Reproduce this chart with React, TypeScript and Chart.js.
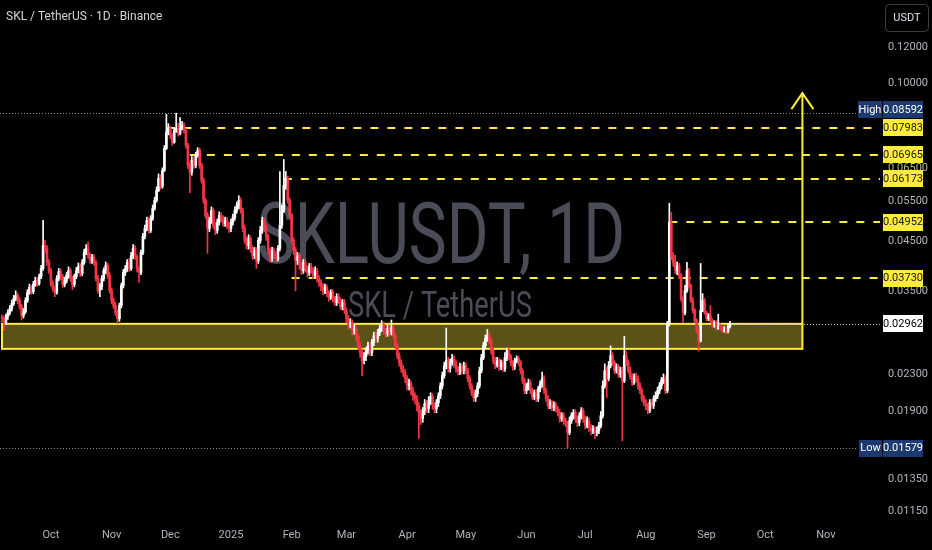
import React, { useEffect, useRef } from "react";
import { Chart, registerables } from "chart.js";

Chart.register(...registerables);

// ---- DATA (SKL/USDT daily, starting 2024-09-06) ----
const closes = [
  0.03041,0.02981,0.03072,0.03135,0.032,0.03282,0.03366,0.03417,0.03332,0.03233,
  0.03088,0.03151,0.03332,0.0347,0.03559,0.03487,0.03613,0.03687,0.03631,0.03763,
  0.03918,0.04402,0.04336,0.04039,0.03879,0.03631,0.03541,0.0347,0.03725,0.03859,
  0.03763,0.03613,0.03687,0.03782,0.03879,0.03725,0.03613,0.03763,0.03879,0.03958,
  0.03821,0.04039,0.04249,0.04336,0.04185,0.0408,0.04143,0.04039,0.03725,0.03505,
  0.03577,0.03725,0.03879,0.03978,0.03782,0.03505,0.03332,0.03249,0.03135,0.03041,
  0.03249,0.03595,0.0384,0.03918,0.04039,0.03918,0.04185,0.04336,0.04164,0.03918,
  0.0384,0.04249,0.04608,0.04798,0.04996,0.0475,0.05047,0.0531,0.05529,0.05816,
  0.0618,0.05935,0.06436,0.07195,0.07802,0.07961,0.07684,0.07416,0.07881,0.07961,
  0.07762,0.07961,0.08083,0.07881,0.07305,0.06601,0.06371,0.06771,0.06601,0.06944,
  0.07122,0.06601,0.06118,0.05529,0.05124,0.04798,0.04996,0.05256,0.04871,0.0475,
  0.04946,0.05124,0.05047,0.04921,0.04996,0.04871,0.04798,0.04946,0.05072,0.05256,
  0.05391,0.05529,0.05256,0.04798,0.04515,0.04402,0.04561,0.04336,0.04185,0.04292,
  0.0408,0.04515,0.0475,0.04996,0.04798,0.04608,0.04292,0.04122,0.04292,0.04185,
  0.04122,0.04336,0.04871,0.05256,0.05965,0.06173,0.05529,0.05124,0.04515,0.04292,
  0.0408,0.04185,0.03978,0.03879,0.04039,0.03918,0.0384,0.03958,0.03879,0.03782,
  0.03879,0.03725,0.0365,0.03577,0.03505,0.03559,0.03452,0.03383,0.0347,0.03366,
  0.03298,0.034,0.03332,0.03233,0.03298,0.03167,0.03041,0.02936,0.02981,0.02862,
  0.02892,0.02777,0.02653,0.02561,0.02459,0.02509,0.02587,0.02653,0.02561,0.02694,
  0.02791,0.02749,0.02833,0.02892,0.02951,0.02862,0.02819,0.02892,0.02833,0.02906,
  0.02791,0.02653,0.02522,0.02434,0.02361,0.02313,0.02245,0.02166,0.02188,0.02112,
  0.02059,0.02028,0.01958,0.0189,0.01833,0.01909,0.01978,0.01928,0.02008,0.02049,
  0.01958,0.01928,0.01988,0.02059,0.02166,0.02279,0.02397,0.02459,0.02361,0.02434,
  0.02484,0.02422,0.02361,0.02325,0.02385,0.02337,0.02397,0.02337,0.02245,0.02166,
  0.02091,0.02038,0.0208,0.02166,0.02337,0.02497,0.02653,0.02749,0.02791,0.02721,
  0.02587,0.02459,0.0241,0.02459,0.02385,0.02434,0.02361,0.02497,0.02587,0.02509,
  0.02434,0.02385,0.02459,0.02484,0.02434,0.02337,0.02222,0.02112,0.02155,0.022,
  0.02112,0.02049,0.02091,0.02028,0.02133,0.02188,0.02245,0.02112,0.02028,0.01958,
  0.01988,0.01938,0.01968,0.01928,0.0189,0.01833,0.01861,0.01814,0.01787,0.01708,
  0.01814,0.01861,0.0189,0.01833,0.01796,0.01861,0.01909,0.01833,0.01769,0.01814,
  0.01751,0.01725,0.01742,0.01708,0.01725,0.01769,0.01861,0.02166,0.02337,0.02245,
  0.02397,0.02522,0.02434,0.02337,0.02385,0.0229,0.0234,0.0222,0.02522,0.02434,
  0.02337,0.02267,0.022,0.02267,0.02245,0.02166,0.02112,0.02028,0.01988,0.01948,
  0.01909,0.01988,0.01958,0.02028,0.02059,0.02112,0.02166,0.02222,0.02245,0.02112,
  0.02966,0.04952,0.04185,0.04039,0.03879,0.03978,0.03782,0.03366,0.03135,0.03505,
  0.03879,0.03595,0.03332,0.03167,0.03011,0.02862,0.02721,0.03167,0.03332,0.03135,
  0.03041,0.03088,0.03011,0.02936,0.02981,0.02892,0.02936,0.02892,0.02862,0.02892,
  0.02848,0.02921,0.02962,
];
const highs = [
  0.031,0.0308,0.0311,0.0318,0.0325,0.0334,0.0342,0.035,0.0346,0.0338,
  0.0327,0.032,0.0338,0.0352,0.0362,0.036,0.0367,0.0375,0.0374,0.0381,
  0.0398,0.05,0.0452,0.044,0.041,0.0392,0.0368,0.0358,0.0378,0.0392,
  0.0391,0.038,0.0375,0.0384,0.0395,0.0392,0.0377,0.0381,0.0394,0.0403,
  0.0401,0.041,0.0432,0.0442,0.0448,0.0424,0.0421,0.042,0.0409,0.0378,
  0.0363,0.0378,0.0393,0.0405,0.0402,0.0384,0.0355,0.0338,0.033,0.0318,
  0.0329,0.0364,0.039,0.0398,0.041,0.0412,0.0425,0.0442,0.044,0.042,
  0.0396,0.043,0.0468,0.0488,0.0508,0.0507,0.0512,0.054,0.0562,0.0592,
  0.0632,0.063,0.0652,0.073,0.0855,0.0815,0.0805,0.0776,0.08,0.08592,
  0.0815,0.084,0.0825,0.0818,0.0795,0.0738,0.067,0.069,0.0688,0.0705,
  0.0722,0.072,0.0668,0.062,0.056,0.052,0.0508,0.0535,0.0532,0.0495,
  0.0503,0.0522,0.052,0.0512,0.0508,0.0507,0.0495,0.0503,0.0516,0.0535,
  0.0548,0.0566,0.056,0.0532,0.0488,0.046,0.0465,0.0462,0.044,0.0436,
  0.0435,0.0458,0.0485,0.0508,0.0506,0.0488,0.0466,0.0435,0.0436,0.0435,
  0.0425,0.044,0.064,0.054,0.068,0.064,0.0625,0.056,0.0518,0.0458,
  0.0436,0.0425,0.0424,0.0404,0.041,0.041,0.0397,0.0402,0.0402,0.0393,
  0.0395,0.0392,0.0378,0.037,0.0363,0.0362,0.0361,0.035,0.0352,0.0352,
  0.034,0.0345,0.0345,0.0338,0.0335,0.0335,0.0321,0.0309,0.0304,0.0302,
  0.0295,0.0293,0.0282,0.027,0.026,0.0256,0.0263,0.027,0.0268,0.0274,
  0.0284,0.0285,0.0288,0.0294,0.0301,0.0299,0.029,0.0294,0.0294,0.0302,
  0.0294,0.0283,0.0269,0.0256,0.0247,0.024,0.0235,0.0228,0.0224,0.0222,
  0.0215,0.0209,0.0206,0.0199,0.0192,0.0194,0.0202,0.0201,0.0205,0.0209,
  0.0208,0.0199,0.0202,0.0209,0.022,0.0232,0.0244,0.029,0.025,0.0248,
  0.0254,0.0252,0.0246,0.0239,0.0243,0.0242,0.0244,0.0243,0.0237,0.0228,
  0.0219,0.0212,0.0212,0.022,0.0238,0.0254,0.027,0.028,0.0288,0.0284,
  0.0276,0.0262,0.025,0.025,0.0249,0.0247,0.0246,0.0256,0.0262,0.0262,
  0.0254,0.0246,0.0249,0.0252,0.0251,0.0246,0.0236,0.0225,0.0219,0.0224,
  0.0223,0.0214,0.0212,0.0212,0.0216,0.0222,0.0232,0.0228,0.0214,0.0206,
  0.0202,0.0201,0.02,0.0199,0.0195,0.0192,0.0189,0.0189,0.0184,0.0181,
  0.0185,0.0189,0.0192,0.0192,0.0186,0.0189,0.0194,0.0193,0.0186,0.0185,
  0.0184,0.0178,0.0177,0.0176,0.0176,0.018,0.019,0.0222,0.0242,0.0238,
  0.0245,0.0265,0.0256,0.0246,0.0242,0.0241,0.0238,0.0238,0.0278,0.0258,
  0.0247,0.0238,0.023,0.023,0.0231,0.0228,0.022,0.0214,0.0206,0.0202,
  0.0198,0.0202,0.0202,0.0206,0.021,0.0215,0.022,0.0226,0.023,0.0228,
  0.03,0.0545,0.052,0.0425,0.0419,0.0405,0.0402,0.0382,0.034,0.036,
  0.0404,0.0392,0.0362,0.0338,0.032,0.0304,0.0288,0.0402,0.0345,0.0337,
  0.0316,0.0312,0.0325,0.0304,0.0301,0.0301,0.0311,0.0296,0.0292,0.0292,
  0.0291,0.0295,0.03,
];
const lows = [
  0.0299,0.0286,0.0295,0.0303,0.031,0.0316,0.0325,0.0333,0.0328,0.0319,
  0.0302,0.0305,0.0312,0.033,0.0344,0.0344,0.0345,0.0358,0.0358,0.036,
  0.0372,0.0388,0.0425,0.0398,0.0382,0.0358,0.0349,0.034,0.0344,0.0368,
  0.037,0.0356,0.0357,0.0364,0.0373,0.0367,0.0352,0.0357,0.0372,0.0383,
  0.0376,0.0378,0.04,0.042,0.0413,0.0402,0.0402,0.0398,0.0368,0.0346,
  0.034,0.0352,0.0368,0.0382,0.0373,0.0346,0.0328,0.032,0.0309,0.0297,
  0.03,0.0321,0.0355,0.0378,0.0386,0.0386,0.0388,0.0412,0.041,0.0385,
  0.0365,0.038,0.042,0.0455,0.0474,0.0468,0.047,0.05,0.0526,0.0548,
  0.0578,0.0585,0.0588,0.064,0.0715,0.077,0.0755,0.073,0.0738,0.078,
  0.0765,0.077,0.079,0.0778,0.072,0.065,0.0575,0.0628,0.065,0.0652,
  0.0688,0.065,0.0603,0.0545,0.0505,0.0423,0.0472,0.0492,0.048,0.0465,
  0.0468,0.0488,0.0497,0.0485,0.0485,0.048,0.047,0.0472,0.0488,0.05,
  0.0518,0.053,0.0518,0.0472,0.0445,0.0432,0.0432,0.0425,0.041,0.0412,
  0.0392,0.0402,0.0445,0.0468,0.0472,0.0452,0.0422,0.0405,0.0406,0.0412,
  0.0405,0.0407,0.0428,0.048,0.052,0.0585,0.0545,0.0505,0.0445,0.042,
  0.035,0.04,0.039,0.038,0.0382,0.0385,0.0375,0.0378,0.0382,0.0372,
  0.0373,0.0366,0.0358,0.035,0.0343,0.0345,0.034,0.0332,0.0335,0.0331,
  0.0325,0.0325,0.0328,0.0318,0.0318,0.0312,0.0298,0.0288,0.029,0.028,
  0.0281,0.0272,0.026,0.025,0.0228,0.0242,0.0246,0.0254,0.0252,0.0252,
  0.0265,0.027,0.027,0.0279,0.0285,0.0281,0.0277,0.0278,0.0279,0.028,
  0.0275,0.0261,0.0248,0.0239,0.0232,0.0227,0.022,0.0212,0.0212,0.0207,
  0.0201,0.0198,0.0191,0.0166,0.0178,0.018,0.0187,0.0189,0.0189,0.0197,
  0.0192,0.0189,0.0189,0.0195,0.0203,0.0213,0.0225,0.0236,0.0232,0.0232,
  0.024,0.0238,0.0232,0.0229,0.0229,0.023,0.023,0.023,0.0221,0.0213,
  0.0206,0.02,0.02,0.0205,0.0214,0.0231,0.0247,0.0262,0.0271,0.0268,
  0.0254,0.0242,0.0236,0.0238,0.0234,0.0235,0.0233,0.0233,0.0246,0.0247,
  0.024,0.0234,0.0235,0.0243,0.024,0.023,0.0219,0.0208,0.0208,0.0212,
  0.0208,0.0202,0.0202,0.02,0.02,0.021,0.0215,0.0208,0.02,0.0193,
  0.0193,0.0191,0.0191,0.019,0.0186,0.018,0.0181,0.0178,0.0176,0.01579,
  0.0169,0.0179,0.0183,0.018,0.0176,0.0177,0.0183,0.018,0.0174,0.0175,
  0.0172,0.0169,0.017,0.0166,0.0168,0.017,0.0175,0.0184,0.0214,0.0204,
  0.0222,0.0237,0.024,0.023,0.0231,0.0226,0.0226,0.0164,0.022,0.024,
  0.0231,0.0224,0.0217,0.0218,0.0221,0.0213,0.0208,0.02,0.0196,0.0192,
  0.0188,0.0189,0.0193,0.0193,0.02,0.0203,0.0208,0.0213,0.0219,0.0208,
  0.0209,0.0293,0.041,0.0396,0.0382,0.038,0.0372,0.0332,0.0298,0.031,
  0.0347,0.0355,0.033,0.0313,0.0298,0.0283,0.0258,0.027,0.0315,0.0311,
  0.0301,0.0301,0.0298,0.0291,0.0291,0.0287,0.0288,0.0287,0.0284,0.0284,
  0.0282,0.0283,0.029,
];
const firstOpen = 0.0305;

const monthTicks = [25, 56, 86, 117, 148, 176, 207, 237, 268, 298, 329, 360, 390, 421];
const monthLabels = ["Oct", "Nov", "Dec", "2025", "Feb", "Mar", "Apr", "May", "Jun", "Jul", "Aug", "Sep", "Oct", "Nov"];
const priceTicks = [0.12, 0.1, 0.065, 0.055, 0.045, 0.035, 0.023, 0.019, 0.0135, 0.0115];

const levels = [0.07983, 0.06965, 0.06173, 0.04952, 0.0373];
const levelStart = [84, 96, 144, 341, 148];
const zoneTop = 0.02962;
const zoneBottom = 0.0261;
const zoneStart = 0;
const zoneEnd = 409;
const arrowTop = 0.0951;
const highValue = 0.08592;
const lowValue = 0.01579;
const lastValue = 0.02962;

// ---- STYLE ----
const UP = "#ffffff";
const DOWN = "#f23645";
const YELLOW = "#ffeb3b";
const NAVY = "#1c3a70";
const FONT = '"Liberation Sans Narrow", "Arial Narrow", Roboto, sans-serif';
const WM_FONT = 'Roboto, "Noto Sans", sans-serif';

function fitText(ctx: CanvasRenderingContext2D, text: string, cx: number, baseline: number, size: number, width: number, color: string) {
  ctx.save();
  ctx.font = `${size}px ${WM_FONT}`;
  const w = ctx.measureText(text).width;
  ctx.translate(cx, baseline);
  ctx.scale(width / w, 1);
  ctx.fillStyle = color;
  ctx.textAlign = "center";
  ctx.textBaseline = "alphabetic";
  ctx.fillText(text, 0, 0);
  ctx.restore();
}

function labelBox(ctx: CanvasRenderingContext2D, x: number, yc: number, w: number, text: string, bg: string, fg: string) {
  const h = 17;
  ctx.fillStyle = bg;
  ctx.fillRect(x, Math.round(yc - h / 2), w, h);
  ctx.fillStyle = fg;
  ctx.font = `11px ${FONT}`;
  ctx.textAlign = "center";
  ctx.textBaseline = "middle";
  ctx.fillText(text, x + w / 2, Math.round(yc) + 0.5);
}

const overlay = {
  id: "overlay",
  beforeDraw(chart: any) {
    const { ctx, width, height } = chart;
    ctx.save();
    ctx.fillStyle = "#000000";
    ctx.fillRect(0, 0, width, height);
    ctx.restore();
  },
  beforeDatasetsDraw(chart: any) {
    const { ctx, chartArea: a, scales } = chart;
    const xs = scales.x;
    const ys = scales.y;
    ctx.save();
    // watermark
    fitText(ctx, "SKLUSDT, 1D", 441, 263, 86, 368, "#4a4d58");
    fitText(ctx, "SKL / TetherUS", 440, 317, 37, 184, "#4a4d58");

    // zone
    const zx0 = xs.getPixelForValue(zoneStart);
    const zx1 = xs.getPixelForValue(zoneEnd);
    const zy0 = ys.getPixelForValue(zoneTop);
    const zy1 = ys.getPixelForValue(zoneBottom);
    ctx.fillStyle = "#5b5216";
    ctx.fillRect(zx0, zy0, zx1 - zx0, zy1 - zy0);
    ctx.strokeStyle = YELLOW;
    ctx.lineWidth = 2;
    ctx.strokeRect(zx0, zy0, zx1 - zx0, zy1 - zy0);

    // dashed resistance levels
    ctx.setLineDash([8, 9]);
    ctx.lineWidth = 2;
    levels.forEach((lv, i) => {
      const yy = Math.round(ys.getPixelForValue(lv));
      ctx.beginPath();
      ctx.moveTo(xs.getPixelForValue(levelStart[i]), yy);
      ctx.lineTo(a.right, yy);
      ctx.stroke();
    });

    // dotted high / low / last lines
    ctx.setLineDash([1, 2]);
    ctx.lineWidth = 1;
    ctx.strokeStyle = "#8a8d96";
    const hy = Math.round(ys.getPixelForValue(highValue)) + 0.5;
    ctx.beginPath(); ctx.moveTo(a.left, hy); ctx.lineTo(a.right - 22, hy); ctx.stroke();
    const ly = Math.round(ys.getPixelForValue(lowValue)) + 0.5;
    ctx.beginPath(); ctx.moveTo(a.left, ly); ctx.lineTo(a.right - 22, ly); ctx.stroke();
    ctx.strokeStyle = "#c8cad0";
    const cy = Math.round(ys.getPixelForValue(lastValue)) + 0.5;
    ctx.beginPath(); ctx.moveTo(xs.getPixelForValue(closes.length), cy); ctx.lineTo(a.right, cy); ctx.stroke();

    // arrow
    ctx.setLineDash([]);
    ctx.strokeStyle = YELLOW;
    ctx.lineWidth = 2;
    const ax = xs.getPixelForValue(zoneEnd);
    const aTop = ys.getPixelForValue(arrowTop);
    ctx.beginPath();
    ctx.moveTo(ax, zy0);
    ctx.lineTo(ax, aTop);
    ctx.moveTo(ax - 11, aTop + 16);
    ctx.lineTo(ax, aTop);
    ctx.lineTo(ax + 11, aTop + 16);
    ctx.stroke();
    ctx.restore();
  },
  afterDraw(chart: any) {
    const { ctx, chartArea: a, scales } = chart;
    const ys = scales.y;
    ctx.save();
    const bx = a.right + 3;
    const bw = 40;
    // level boxes
    levels.forEach((lv) => {
      labelBox(ctx, bx, ys.getPixelForValue(lv), bw, lv.toFixed(5), YELLOW, "#131722");
    });
    // high box (pushed above the neighbouring level label)
    const hyRaw = ys.getPixelForValue(highValue);
    const hy = Math.min(hyRaw, ys.getPixelForValue(levels[0]) - 18);
    labelBox(ctx, bx - 25, hy, 24, "High", NAVY, "#ffffff");
    labelBox(ctx, bx, hy, bw, highValue.toFixed(5), NAVY, "#ffffff");
    // low box
    const ly = ys.getPixelForValue(lowValue);
    labelBox(ctx, bx - 24, ly, 23, "Low", NAVY, "#ffffff");
    labelBox(ctx, bx, ly, bw, lowValue.toFixed(5), NAVY, "#ffffff");
    // last price
    labelBox(ctx, bx, ys.getPixelForValue(lastValue), bw, lastValue.toFixed(5), "#ffffff", "#000000");

    // USDT button
    ctx.strokeStyle = "#3a3d47";
    ctx.lineWidth = 1;
    ctx.fillStyle = "#000000";
    ctx.beginPath();
    ctx.roundRect(885.5, 4.5, 43, 27, 4);
    ctx.fill();
    ctx.stroke();
    ctx.fillStyle = "#e0e3eb";
    ctx.font = `11px ${FONT}`;
    ctx.textAlign = "center";
    ctx.textBaseline = "middle";
    ctx.fillText("USDT", 907, 18.5);

    // title
    ctx.fillStyle = "#d1d4dc";
    ctx.font = `12px ${FONT}`;
    ctx.textAlign = "left";
    ctx.textBaseline = "middle";
    ctx.fillText("SKL / TetherUS · 1D · Binance", 6, 17);
    ctx.restore();
  },
};

export default function App() {
  const ref = useRef<HTMLCanvasElement>(null);
  useEffect(() => {
    const opens = closes.map((c, i) => (i === 0 ? firstOpen : closes[i - 1]));
    const colors = closes.map((c, i) => (c >= opens[i] ? UP : DOWN));
    const wicks = closes.map((c, i) => ({ x: i, y: [lows[i], highs[i]] }));
    const bodies = closes.map((c, i) => ({ x: i, y: [Math.min(opens[i], c), Math.max(opens[i], c)] }));
    const chart = new Chart(ref.current as HTMLCanvasElement, {
      type: "bar",
      data: {
        datasets: [
          { data: wicks as any, backgroundColor: colors, barThickness: 1, grouped: false, borderWidth: 0 } as any,
          { data: bodies as any, backgroundColor: colors, barThickness: 2, grouped: false, borderWidth: 0, minBarLength: 1 } as any,
        ],
      },
      options: {
        responsive: false,
        animation: false,
        events: [],
        layout: { padding: 0 },
        plugins: { legend: { display: false }, tooltip: { enabled: false }, title: { display: false } },
        scales: {
          x: {
            type: "linear",
            min: -1.022,
            max: 448.65,
            bounds: "data",
            offset: false,
            grid: { display: false, drawTicks: false },
            border: { display: false },
            afterBuildTicks: (s: any) => {
              s.ticks = monthTicks.map((v) => ({ value: v }));
            },
            afterFit: (s: any) => {
              s.height = 29;
              s.paddingLeft = 0;
              s.paddingRight = 0;
            },
            ticks: {
              autoSkip: false,
              maxRotation: 0,
              padding: 8,
              color: "#b2b5be",
              font: { family: FONT, size: 11 },
              callback: (_v: any, i: number) => monthLabels[i],
            },
          },
          y: {
            type: "logarithmic",
            position: "right",
            min: 0.01093,
            max: 0.1523,
            bounds: "data",
            grid: { display: false, drawTicks: false },
            border: { display: false },
            afterBuildTicks: (s: any) => {
              s.ticks = priceTicks.map((v) => ({ value: v }));
            },
            afterFit: (s: any) => {
              s.width = 52;
              s.paddingTop = 0;
              s.paddingBottom = 0;
            },
            ticks: {
              autoSkip: false,
              padding: 8,
              color: "#b2b5be",
              font: { family: FONT, size: 11 },
              callback: (v: any) => Number(v).toFixed(5),
            },
          },
        },
      } as any,
      plugins: [overlay],
    });
    return () => chart.destroy();
  }, []);
  return (
    <div style={{ position: "fixed", left: 0, top: 0, width: 932, height: 550, background: "#000" }}>
      <canvas ref={ref} width={932} height={550} style={{ display: "block" }} />
    </div>
  );
}
